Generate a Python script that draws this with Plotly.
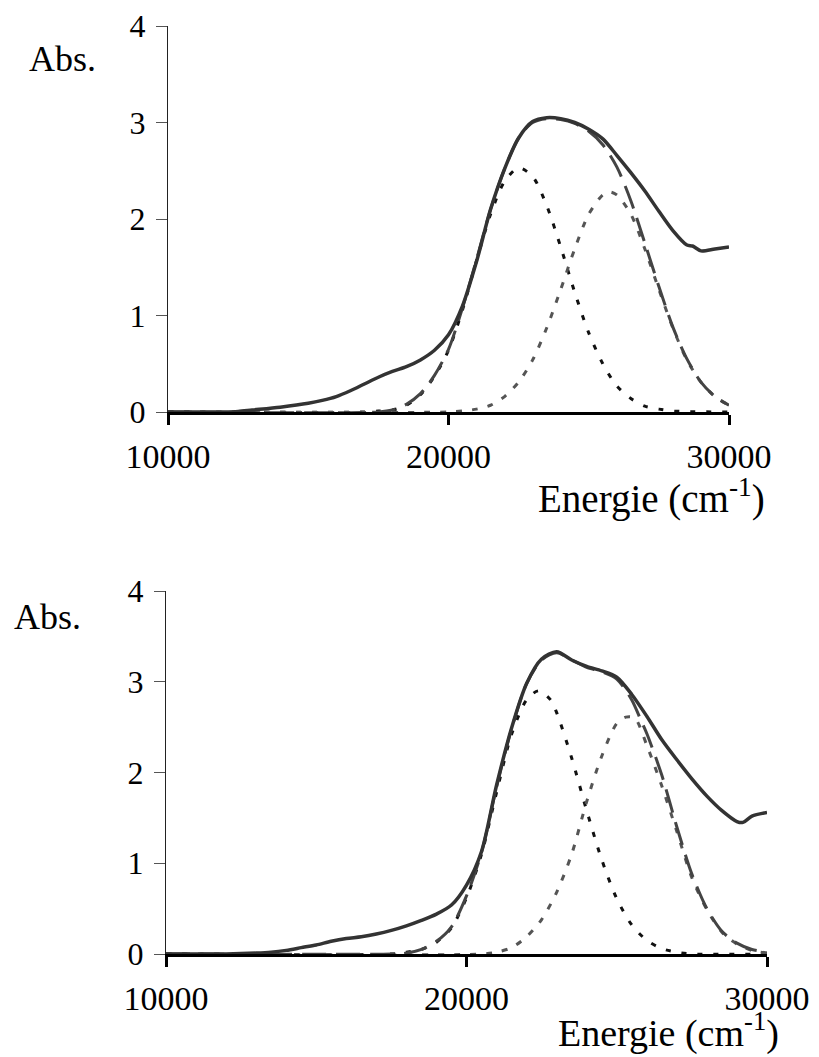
import plotly.graph_objects as go

# ---- top panel ----
top_E_total = [10000, 11000, 12000, 12500, 13000, 14000, 15000, 15500, 16000, 16500, 17000, 17500,
               18000, 18500, 19000, 19500, 20000, 20500, 21000, 21500, 22000, 22500, 23000, 23500,
               24000, 24500, 25000, 25500, 26000, 26500, 27000, 27500, 28000, 28500, 28700, 29000,
               29500, 30000]
top_A_total = [0.00, 0.00, 0.00, 0.005, 0.02, 0.05, 0.09, 0.12, 0.16, 0.22, 0.29, 0.36,
               0.42, 0.47, 0.54, 0.64, 0.80, 1.10, 1.56, 2.10, 2.52, 2.84, 3.01, 3.05,
               3.04, 3.00, 2.93, 2.83, 2.66, 2.48, 2.29, 2.08, 1.88, 1.73, 1.72, 1.67,
               1.69, 1.71]

top_E_band1 = [10000, 17000, 17500, 18000, 18500, 19000, 19500, 20000, 20500, 21000, 21500, 22000,
               22500, 23000, 23500, 24000, 24500, 25000, 25500, 26000, 26500, 27000, 27500, 28000, 30000]
top_A_band1 = [0.00, 0.00, 0.01, 0.02, 0.07, 0.18, 0.37, 0.64, 1.06, 1.57, 2.05, 2.39,
               2.53, 2.44, 2.14, 1.71, 1.24, 0.82, 0.50, 0.27, 0.14, 0.06, 0.03, 0.01, 0.00]

top_E_band2 = [10000, 20000, 20500, 21000, 21500, 22000, 22500, 23000, 23500, 24000, 24500, 25000,
               25500, 25750, 26000, 26500, 27000, 27500, 28000, 28500, 29000, 29500, 30000]
top_A_band2 = [0.00, 0.00, 0.01, 0.03, 0.07, 0.16, 0.31, 0.54, 0.87, 1.27, 1.69, 2.05,
               2.25, 2.28, 2.25, 2.05, 1.69, 1.27, 0.87, 0.54, 0.31, 0.16, 0.07]

top_E_fit = [10000, 17500, 18000, 18500, 19000, 19500, 20000, 20500, 21000, 21500, 22000, 22500,
             23000, 23500, 24000, 24500, 25000, 25500, 26000, 26500, 27000, 27500, 28000, 28500,
             29000, 29500, 30000]
top_A_fit = [0.00, 0.00, 0.02, 0.08, 0.19, 0.38, 0.65, 1.08, 1.58, 2.10, 2.52, 2.84,
             3.00, 3.04, 3.03, 2.99, 2.91, 2.77, 2.54, 2.19, 1.75, 1.30, 0.88, 0.55,
             0.31, 0.16, 0.07]

# ---- bottom panel ----
bot_E_total = [10000, 12000, 13000, 13500, 14000, 14500, 15000, 15500, 16000, 16500, 17000, 17500,
               18000, 18500, 19000, 19500, 20000, 20500, 21000, 21500, 22000, 22500, 23000, 23500,
               24000, 24500, 25000, 25500, 26000, 26500, 27000, 27500, 28000, 28500, 29000, 29200,
               29500, 30000]
bot_A_total = [0.00, 0.00, 0.01, 0.02, 0.04, 0.07, 0.10, 0.14, 0.17, 0.19, 0.22, 0.26,
               0.31, 0.37, 0.44, 0.54, 0.76, 1.13, 1.86, 2.49, 2.98, 3.25, 3.33, 3.24,
               3.17, 3.12, 3.05, 2.86, 2.62, 2.36, 2.14, 1.93, 1.74, 1.58, 1.46, 1.45,
               1.52, 1.56]

bot_E_band1 = [10000, 17500, 18000, 18500, 19000, 19500, 20000, 20500, 21000, 21500, 22000, 22400,
               22800, 23000, 23500, 24000, 24500, 25000, 25500, 26000, 26500, 27000, 27500, 30000]
bot_A_band1 = [0.00, 0.00, 0.02, 0.05, 0.13, 0.29, 0.62, 1.10, 1.78, 2.42, 2.80, 2.90,
               2.80, 2.66, 2.16, 1.58, 1.04, 0.61, 0.32, 0.15, 0.06, 0.02, 0.00, 0.00]

bot_E_band2 = [10000, 20500, 21000, 21500, 22000, 22500, 23000, 23500, 24000, 24500, 25000, 25300,
               25600, 26000, 26500, 27000, 27500, 28000, 28500, 29000, 29500, 30000]
bot_A_band2 = [0.00, 0.00, 0.02, 0.07, 0.19, 0.38, 0.68, 1.10, 1.68, 2.18, 2.54, 2.61,
               2.60, 2.30, 1.85, 1.35, 0.84, 0.49, 0.24, 0.11, 0.04, 0.01]

bot_E_fit = [10000, 17500, 18000, 18500, 19000, 19500, 20000, 20500, 21000, 21500, 22000, 22500,
             23000, 23500, 24000, 24500, 25000, 25500, 25800, 26000, 26500, 27000, 27500, 28000,
             28500, 29000, 29500, 30000]
bot_A_fit = [0.00, 0.00, 0.01, 0.05, 0.14, 0.30, 0.64, 1.12, 1.84, 2.48, 2.98, 3.24,
             3.32, 3.24, 3.16, 3.11, 3.03, 2.80, 2.58, 2.43, 1.97, 1.40, 0.88, 0.50,
             0.25, 0.12, 0.05, 0.02]

x_ticks = [10000, 20000, 30000]
y_ticks = [0, 1, 2, 3, 4]

FONT = "Liberation Serif, Times New Roman, serif"
W, H = 819, 1057
OFF = 8  # page body margin the figure sits in


def px(x):
    return (x - OFF) / W


def py(y):
    return 1 - (y - OFF) / H


fig = go.Figure()


def add_panel(xa, ya, E1, A1, E2, A2, Ef, Af, Et, At):
    # short black dashes - first band
    fig.add_trace(go.Scatter(x=E1, y=A1, xaxis=xa, yaxis=ya, mode="lines",
                             line=dict(color="#111111", width=3, dash="5px,11px",
                                       shape="spline", smoothing=0.8)))
    # grey dots - second band
    fig.add_trace(go.Scatter(x=E2, y=A2, xaxis=xa, yaxis=ya, mode="lines",
                             line=dict(color="#555555", width=3, dash="6px,10px",
                                       shape="spline", smoothing=0.8)))
    # long dashes - sum of bands
    fig.add_trace(go.Scatter(x=Ef, y=Af, xaxis=xa, yaxis=ya, mode="lines",
                             line=dict(color="#444444", width=3, dash="24px,10px",
                                       shape="spline", smoothing=0.8)))
    # measured spectrum
    fig.add_trace(go.Scatter(x=Et, y=At, xaxis=xa, yaxis=ya, mode="lines",
                             line=dict(color="#333333", width=3.5,
                                       shape="spline", smoothing=0.8)))


add_panel("x", "y", top_E_band1, top_A_band1, top_E_band2, top_A_band2,
          top_E_fit, top_A_fit, top_E_total, top_A_total)
add_panel("x2", "y2", bot_E_band1, bot_A_band1, bot_E_band2, bot_A_band2,
          bot_E_fit, bot_A_fit, bot_E_total, bot_A_total)

xax = dict(range=[10000, 30000], tickvals=x_ticks, ticktext=[str(v) for v in x_ticks],
           showline=True, linecolor="black", linewidth=3, ticks="outside", ticklen=10,
           tickwidth=3, tickcolor="black", showgrid=False, zeroline=False, automargin=False,
           tickfont=dict(family=FONT, size=34, color="black"), ticklabelstandoff=2)
yax = dict(range=[0, 4], tickvals=y_ticks, showline=True, linecolor="#222222", linewidth=1,
           ticks="outside", ticklen=11, tickwidth=1, tickcolor="#555555", showgrid=False,
           zeroline=False, automargin=False, tickfont=dict(family=FONT, size=32, color="black"),
           ticklabelstandoff=4)

fig.update_layout(
    width=W, height=H,
    margin=dict(l=0, r=0, t=0, b=0, pad=0, autoexpand=False),
    paper_bgcolor="white", plot_bgcolor="white",
    showlegend=False,
    xaxis=dict(xax, domain=[px(168), px(729)], anchor="y"),
    yaxis=dict(yax, domain=[py(412), py(26)], anchor="x"),
    xaxis2=dict(xax, domain=[px(166), px(767)], anchor="y2"),
    yaxis2=dict(yax, domain=[py(954), py(591)], anchor="x2"),
    annotations=[
        dict(text="Abs.", x=px(27), y=py(59), xref="paper", yref="paper",
             xanchor="left", yanchor="middle", showarrow=False,
             font=dict(family=FONT, size=36, color="black")),
        dict(text="Abs.", x=px(12), y=py(617), xref="paper", yref="paper",
             xanchor="left", yanchor="middle", showarrow=False,
             font=dict(family=FONT, size=36, color="black")),
        dict(text="Energie (cm<sup>-1</sup>)", x=px(767), y=py(497), xref="paper",
             yref="paper", xanchor="right", yanchor="middle", showarrow=False,
             font=dict(family=FONT, size=39, color="black")),
        dict(text="Energie (cm<sup>-1</sup>)", x=px(781), y=py(1030), xref="paper",
             yref="paper", xanchor="right", yanchor="middle", showarrow=False,
             font=dict(family=FONT, size=38, color="black")),
    ],
)

fig.write_html("out.html")
